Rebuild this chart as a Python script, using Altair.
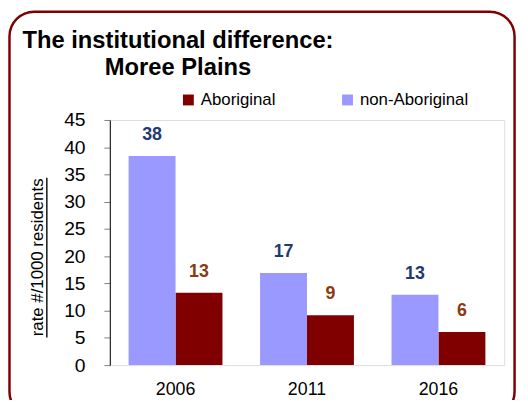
import altair as alt
import pandas as pd

# ---- data ----
years = ["2006", "2011", "2016"]
aboriginal = [13.3, 9.15, 6.1]
non_aboriginal = [38.4, 16.9, 12.9]
groups = ["Aboriginal", "non-Aboriginal"]
bar_order = ["non-Aboriginal", "Aboriginal"]
y_ticks = [0, 5, 10, 15, 20, 25, 30, 35, 40, 45]
title_line1 = "The institutional difference:"
title_line2 = "Moree Plains"
y_title = "rate #/1000 residents"

rows = []
for i, yr in enumerate(years):
    rows.append({"year": yr, "group": "Aboriginal", "rate": aboriginal[i]})
    rows.append({"year": yr, "group": "non-Aboriginal", "rate": non_aboriginal[i]})
df = pd.DataFrame(rows)

FONT = "Liberation Sans"
one = pd.DataFrame({"k": [0]})

x_enc = alt.X("year:N", sort=years,
              scale=alt.Scale(paddingInner=0.286, paddingOuter=0.143),
              axis=alt.Axis(title=None, labelAngle=0, domain=False, ticks=False,
                            labelFontSize=18, labelPadding=16, labelColor="black",
                            labelFont=FONT))
xo_enc = alt.XOffset("group:N", sort=bar_order,
                     scale=alt.Scale(paddingInner=0, paddingOuter=0))
y_enc = alt.Y("rate:Q", scale=alt.Scale(domain=[0, 45], nice=False),
              axis=alt.Axis(title=None, values=y_ticks, labelFontSize=19.5,
                            labelPadding=19, tickSize=6, tickColor="#808080",
                            domainColor="black", grid=False, labelColor="black",
                            labelFont=FONT))

bars = alt.Chart(df).mark_bar().encode(
    x=x_enc, xOffset=xo_enc, y=y_enc,
    color=alt.Color("group:N",
                    scale=alt.Scale(domain=groups, range=["#800000", "#9999FF"]),
                    legend=alt.Legend(title=None, orient="none", direction="horizontal",
                                      legendX=71, legendY=-29, padding=0,
                                      symbolType="square", symbolSize=121,
                                      symbolStrokeWidth=0, labelFontSize=17,
                                      labelFont=FONT, labelColor="black",
                                      labelOffset=4, columnPadding=64)),
)

labels = alt.Chart(df).mark_text(baseline="alphabetic", dy=-16, fontSize=18,
                                 fontWeight="bold", font=FONT).encode(
    x=x_enc, xOffset=xo_enc, y=y_enc,
    text=alt.Text("rate:Q", format=".0f"),
    color=alt.condition(alt.datum.group == "Aboriginal",
                        alt.value("#8B3A0F"), alt.value("#1F3A70")),
)

border = alt.Chart(one).mark_rect(fill="transparent", stroke="#800000",
                                  strokeWidth=2.5, cornerRadius=25).encode(
    x=alt.value(-101.5), x2=alt.value(409.5), y=alt.value(-109.5), y2=alt.value(300)
)

t1 = alt.Chart(one).mark_text(text=title_line1, fontSize=24, fontWeight="bold",
                              font=FONT, align="center", baseline="alphabetic",
                              color="black").encode(x=alt.value(69), y=alt.value(-72.5))
t2 = alt.Chart(one).mark_text(text=title_line2, fontSize=24, fontWeight="bold",
                              font=FONT, align="center", baseline="alphabetic",
                              color="black").encode(x=alt.value(69), y=alt.value(-45.3))

ytitle = alt.Chart(one).mark_text(text=y_title, fontSize=17, font=FONT, angle=270,
                                  align="center", baseline="alphabetic",
                                  color="black").encode(x=alt.value(-67.5), y=alt.value(139))
underline = alt.Chart(one).mark_rule(color="black", strokeWidth=1.4).encode(
    x=alt.value(-63.7), y=alt.value(58.5), y2=alt.value(220)
)

chart = alt.layer(border, bars, labels, t1, t2, ytitle, underline).properties(
    width=399, height=248,
    autosize=alt.AutoSizeParams(type="none"),
    padding={"left": 103, "top": 111, "right": 16, "bottom": 33},
).configure_view(stroke=None).configure(font=FONT)

chart.save("out.html", embed_options={"renderer": "svg", "actions": False})
